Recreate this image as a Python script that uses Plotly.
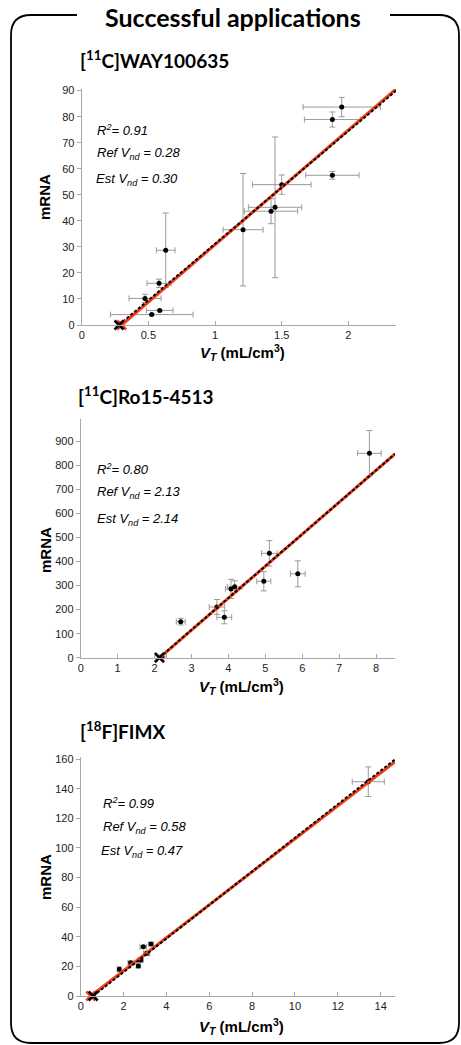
import plotly.graph_objects as go

W, H = 461, 1045

# ---------------- data ----------------
# Panel 1: [11C]WAY100635
way_vt = [1.95, 1.88, 1.88, 1.50, 1.45, 1.42, 1.21, 0.63, 0.58, 0.475, 0.585, 0.525]
way_mrna = [83.7, 78.9, 57.5, 53.9, 45.2, 43.7, 36.6, 28.7, 16.0, 10.2, 5.6, 4.0]
way_vt_err = [0.29, 0.21, 0.20, 0.22, 0.20, 0.20, 0.15, 0.07, 0.09, 0.12, 0.10, 0.31]
way_mrna_err = [3.7, 2.9, 1.5, 3.7, 27.0, 4.8, 21.6, 14.3, 1.6, 1.6, 0.3, 0.3]
way_ref_vnd, way_est_vnd = 0.28, 0.30
way_ref_slope, way_est_slope = 43.3, 44.05
way_stats = ["<i>R<sup>2</sup>= 0.91</i>", "<i>Ref V<sub>nd</sub> = 0.28</i>", "<i>Est V<sub>nd</sub> = 0.30</i>"]

# Panel 2: [11C]Ro15-4513
ro_vt = [7.82, 5.88, 5.11, 4.96, 4.17, 4.07, 3.69, 3.89, 2.71, 2.20]
ro_mrna = [850, 349, 434, 318, 295, 286, 211, 168, 150, 3]
ro_vt_err = [0.32, 0.20, 0.21, 0.19, 0.20, 0.15, 0.21, 0.20, 0.12, 0.12]
ro_mrna_err = [95, 54, 53, 40, 25, 40, 31, 27, 14, 8]
ro_ref_vnd, ro_est_vnd = 2.13, 2.14
ro_ref_slope, ro_est_slope = 132.8, 133.0
ro_stats = ["<i>R<sup>2</sup>= 0.80</i>", "<i>Ref V<sub>nd</sub> = 2.13</i>", "<i>Est V<sub>nd</sub> = 2.14</i>"]

# Panel 3: [18F]FIMX
fimx_vt = [13.42, 3.28, 2.92, 3.08, 2.33, 2.80, 2.69, 1.80]
fimx_mrna = [144.7, 35.1, 33.3, 28.8, 22.5, 24.3, 20.3, 18.0]
fimx_vt_err = [0.75, 0.10, 0.15, 0.15, 0.12, 0.12, 0.08, 0.06]
fimx_mrna_err = [10.0, 1.0, 0.8, 1.5, 1.0, 1.5, 1.2, 1.5]
fimx_ref_vnd, fimx_est_vnd = 0.58, 0.47
fimx_ref_slope, fimx_est_slope = 11.34, 11.14
fimx_stats = ["<i>R<sup>2</sup>= 0.99</i>", "<i>Ref V<sub>nd</sub> = 0.58</i>", "<i>Est V<sub>nd</sub> = 0.47</i>"]

x_ticks = [[0, 0.5, 1, 1.5, 2], list(range(0, 9)), list(range(0, 15, 2))]
y_ticks = [list(range(0, 91, 10)), list(range(0, 901, 100)), list(range(0, 161, 20))]
titles = ["[<sup>11</sup>C]WAY100635", "[<sup>11</sup>C]Ro15-4513", "[<sup>18</sup>F]FIMX"]

# ---------------- layout geometry (pixels) ----------------
# (x0px, x1px, y_top_px, y_bottom_px, xmax, ymax)
geo = [
    (81.7, 396.0, 89.0, 325.0, 2.357, 90.63),
    (80.7, 395.0, 419.3, 657.7, 8.513, 991.5),
    (80.7, 395.0, 756.7, 996.0, 14.667, 161.6),
]
title_pos = [(78, 60), (76, 395), (78, 730)]
stats_pos = [[(95, 130), (95, 153.3), (94.3, 179.3)],
             [(95, 469), (95, 492.7), (95, 520)],
             [(100.7, 802.7), (100.7, 827.7), (99.3, 851.7)]]
ylabel_y = [197, 550, 877]
xlabel_y = [353, 686, 1026]

def px(x):
    return x / W

def py(y):
    return 1 - y / H

panels = [
    (way_vt, way_mrna, way_vt_err, way_mrna_err, way_ref_vnd, way_est_vnd, way_ref_slope, way_est_slope, way_stats),
    (ro_vt, ro_mrna, ro_vt_err, ro_mrna_err, ro_ref_vnd, ro_est_vnd, ro_ref_slope, ro_est_slope, ro_stats),
    (fimx_vt, fimx_mrna, fimx_vt_err, fimx_mrna_err, fimx_ref_vnd, fimx_est_vnd, fimx_ref_slope, fimx_est_slope, fimx_stats),
]

fig = go.Figure()
annotations = []
axis_font = dict(family="Liberation Sans, Arial", size=11, color="#222")
gray = "#a8a8a8"
errc = "#9a9a9a"

for i, (vt, mr, vte, mre, rv, ev, rs, es, stats) in enumerate(panels):
    n = "" if i == 0 else str(i + 1)
    xa, ya = "x" + n, "y" + n
    x0p, x1p, ytp, ybp, xmax, ymax = geo[i]

    fig.add_trace(go.Scatter(
        x=vt, y=mr, xaxis=xa, yaxis=ya, mode="markers",
        marker=dict(color="black", size=5),
        error_x=dict(type="data", array=vte, color=errc, thickness=1, width=3),
        error_y=dict(type="data", array=mre, color=errc, thickness=1, width=3),
        showlegend=False, cliponaxis=False,
    ))
    # estimated fit (red)
    fig.add_trace(go.Scatter(
        x=[ev, xmax], y=[0, es * (xmax - ev)], xaxis=xa, yaxis=ya, mode="lines",
        line=dict(color="#f23c1a", width=3), showlegend=False, cliponaxis=False,
    ))
    # reference fit (black dashed)
    fig.add_trace(go.Scatter(
        x=[rv, xmax], y=[0, rs * (xmax - rv)], xaxis=xa, yaxis=ya, mode="lines",
        line=dict(color="black", width=2, dash="3px,2px"), showlegend=False, cliponaxis=False,
    ))
    fig.add_trace(go.Scatter(
        x=[ev], y=[0], xaxis=xa, yaxis=ya, mode="markers",
        marker=dict(symbol="x-thin", size=9, line=dict(color="#f23c1a", width=2.5)),
        showlegend=False, cliponaxis=False,
    ))
    fig.add_trace(go.Scatter(
        x=[rv], y=[0], xaxis=xa, yaxis=ya, mode="markers",
        marker=dict(symbol="x-thin", size=9, line=dict(color="black", width=2.5)),
        showlegend=False, cliponaxis=False,
    ))

    common = dict(showline=True, linecolor=gray, linewidth=1, showgrid=False, zeroline=False,
                  tickcolor=gray, ticklen=4, tickwidth=1, tickfont=axis_font, automargin=False)
    fig.layout["xaxis" + n] = dict(domain=[px(x0p), px(x1p)], range=[0, xmax], anchor=ya,
                                   tickvals=x_ticks[i], ticks="inside", **common)
    fig.layout["yaxis" + n] = dict(domain=[py(ybp), py(ytp)], range=[0, ymax], anchor=xa,
                                   tickvals=y_ticks[i], ticks="outside", **common)

    annotations.append(dict(x=px(title_pos[i][0]), y=py(title_pos[i][1]), xref="paper", yref="paper",
                            text="<b>" + titles[i] + "</b>", showarrow=False, xanchor="left", yanchor="middle",
                            font=dict(family="Lato", size=19, color="black")))
    for (sx, sy), t in zip(stats_pos[i], stats):
        annotations.append(dict(x=px(sx), y=py(sy), xref="paper", yref="paper", text=t, showarrow=False,
                                xanchor="left", yanchor="middle",
                                font=dict(family="Liberation Sans, Arial", size=13, color="black")))
    annotations.append(dict(x=px(45), y=py(ylabel_y[i]), xref="paper", yref="paper", text="<b>mRNA</b>",
                            textangle=-90, showarrow=False, xanchor="center", yanchor="middle",
                            font=dict(family="Liberation Sans, Arial", size=15, color="black")))
    annotations.append(dict(x=px((x0p + x1p) / 2 + 4), y=py(xlabel_y[i]), xref="paper", yref="paper",
                            text="<b><i>V<sub>T</sub></i> (mL/cm<sup>3</sup>)</b>",
                            showarrow=False, xanchor="center", yanchor="middle",
                            font=dict(family="Liberation Sans, Arial", size=15, color="black")))

annotations.append(dict(x=px(233), y=py(17), xref="paper", yref="paper", text="<b>Successful applications</b>",
                        showarrow=False, xanchor="center", yanchor="middle",
                        font=dict(family="Lato", size=25, color="black")))

# rounded frame with gap for the title
L, R, T, B, r = 11, 459, 15, 1043, 20
pts = [
    ("M", [(77, T)]), ("L", [(L + r, T)]), ("Q", [(L, T), (L, T + r)]),
    ("L", [(L, B - r)]), ("Q", [(L, B), (L + r, B)]), ("L", [(R - r, B)]),
    ("Q", [(R, B), (R, B - r)]), ("L", [(R, T + r)]), ("Q", [(R, T), (R - r, T)]), ("L", [(390, T)]),
]
path = " ".join(c + " " + " ".join(f"{px(a):.5f},{py(b):.5f}" for a, b in p) for c, p in pts)

fig.update_layout(
    width=W, height=H, margin=dict(l=0, r=0, t=0, b=0),
    template="none", paper_bgcolor="white", plot_bgcolor="white",
    annotations=annotations,
    shapes=[dict(type="path", path=path, xref="paper", yref="paper", line=dict(color="black", width=1.8))],
    showlegend=False,
)

fig.write_html("out.html")
